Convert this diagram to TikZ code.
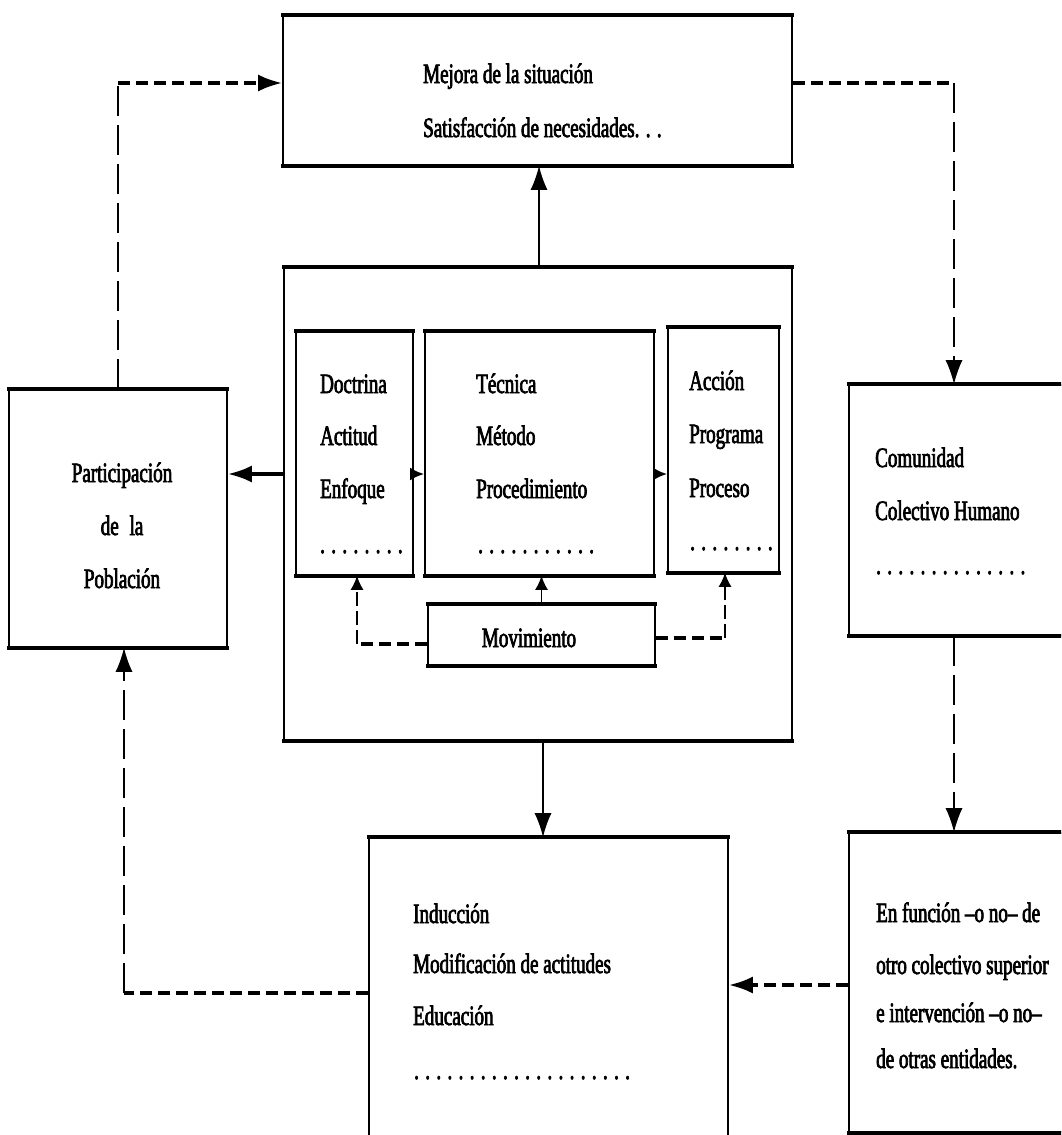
\documentclass[tikz,border=0pt]{standalone}
\usepackage{fontspec}
\setmainfont{Liberation Serif}[FakeStretch=0.68,FakeBold=2.5]
\usetikzlibrary{arrows.meta}
\tikzset{
  bx/.style={draw, line width=1.6pt, rectangle, inner sep=0pt},
  edge/.style={line width=4pt, line cap=butt},
  txt/.style={inner sep=0pt, font=\fontsize{28}{30}\selectfont},
  arr/.style={-{Latex[length=24pt,width=17pt]}},
  sarr/.style={-{Latex[length=14pt,width=13pt]}},
  solidln/.style={line width=1.6pt},
  thickln/.style={line width=3.5pt},
  hdash/.style={line width=3.5pt, dash pattern=on 12pt off 6pt},
  vdash/.style={line width=1.5pt, dash pattern=on 30pt off 9pt},
}
\begin{document}
\begin{tikzpicture}[x=1pt,y=-1pt]
\useasboundingbox (0,0) rectangle (1061,1135);
\clip (0,0) rectangle (1061,1135);
\fill[white] (0,0) rectangle (1061,1135);

% boxes
\node[bx, minimum width=509pt, minimum height=149pt] (top) at (537.5,90.5) {};
\node[bx, minimum width=508pt, minimum height=472pt] (big) at (538,504) {};
\node[bx, minimum width=117pt, minimum height=243pt] (doc) at (354.5,453.5) {};
\node[bx, minimum width=229pt, minimum height=243pt] (tec) at (539.5,453.5) {};
\node[bx, minimum width=111pt, minimum height=244pt] (acc) at (723.5,450) {};
\node[bx, minimum width=227pt, minimum height=60pt] (mov) at (541.5,635) {};
\node[bx, minimum width=218pt, minimum height=257pt] (par) at (118,518.5) {};
\node[bx, minimum width=226pt, minimum height=250pt] (com) at (962,510) {};
\node[bx, minimum width=359pt, minimum height=307pt] (ind) at (548.5,991.5) {};
\node[bx, minimum width=226pt, minimum height=299pt] (enf) at (962,982.5) {};

% thick top and bottom edges
\foreach \b in {top,big,doc,tec,acc,mov,par,com,ind,enf}{
  \draw[edge] ([xshift=-0.8pt]\b.north west) -- ([xshift=0.8pt]\b.north east);
  \draw[edge] ([xshift=-0.8pt]\b.south west) -- ([xshift=0.8pt]\b.south east);
}

% texts
\node[txt, anchor=base west] (t1) at (423,83) {Mejora de la situación};
\node[txt, anchor=base west] (t2) at (423,137) {Satisfacción de necesidades. . .};

\node[txt, anchor=base west] (d1) at (320,393) {Doctrina};
\node[txt, anchor=base west] (d2) at (320,445) {Actitud};
\node[txt, anchor=base west] (d3) at (320,498) {Enfoque};
\node[txt, anchor=base west] (d4) at (320,553) {. . . . . . . .};

\node[txt, anchor=base west] (e1) at (476,393) {Técnica};
\node[txt, anchor=base west] (e2) at (476,445) {Método};
\node[txt, anchor=base west] (e3) at (476,498) {Procedimiento};
\node[txt, anchor=base west] (e4) at (478,553) {. . . . . . . . . . .};

\node[txt, anchor=base west] (a1) at (689,390) {Acción};
\node[txt, anchor=base west] (a2) at (689,443) {Programa};
\node[txt, anchor=base west] (a3) at (689,497) {Proceso};
\node[txt, anchor=base west] (a4) at (690,550) {. . . . . . . .};

\node[txt, anchor=base] (m1) at (529,647) {Movimiento};

\node[txt, anchor=base] (p1) at (122,482) {Participación};
\node[txt, anchor=base] (p2) at (122,535) {de\hspace{6pt} la};
\node[txt, anchor=base] (p3) at (122,588) {Población};

\node[txt, anchor=base west] (c1) at (875,467) {Comunidad};
\node[txt, anchor=base west] (c2) at (875,520) {Colectivo Humano};
\node[txt, anchor=base west] (c3) at (876,574) {. . . . . . . . . . . . . .};

\node[txt, anchor=base west] (i1) at (413,923) {Inducción};
\node[txt, anchor=base west] (i2) at (413,973) {Modificación de actitudes};
\node[txt, anchor=base west] (i3) at (413,1025) {Educación};
\node[txt, anchor=base west] (i4) at (414,1079) {. . . . . . . . . . . . . . . . . . . .};

\node[txt, anchor=base west] (f1) at (876,922) {En función --o no-- de};
\node[txt, anchor=base west] (f2) at (876,974) {otro colectivo superior};
\node[txt, anchor=base west] (f3) at (876,1022) {e intervención --o no--};
\node[txt, anchor=base west] (f4) at (876,1068) {de otras entidades.};

% helper coordinates
\coordinate (rowA) at (0,474);
\coordinate (lA) at (118,83);
\coordinate (rA) at (954,83);
\coordinate (mvL) at (357,644);
\coordinate (mvR) at (725,638);
\coordinate (rowE) at (0,985);
\coordinate (lB) at (124,993);
\coordinate (cx) at (539,0);
\coordinate (bx2) at (543,0);

% solid connectors
\draw[solidln, arr] (big.north -| cx) -- (top.south -| cx);
\draw[thickln, arr] (big.west |- rowA) -- (par.east |- rowA);
\draw[thickln, sarr] (doc.east |- rowA) -- (tec.west |- rowA);
\draw[thickln, sarr] (tec.east |- rowA) -- (acc.west |- rowA);
\draw[solidln, sarr] (mov.north) -- (mov.north |- tec.south);
\draw[solidln, arr] (big.south -| bx2) -- (ind.north -| bx2);

% dashed connectors
\draw[hdash] (mov.west |- mvL) -- (mvL);
\draw[vdash, dash pattern=on 14pt off 5pt, sarr] (mvL) -- (mvL |- doc.south);
\draw[hdash] (mov.east |- mvR) -- (mvR);
\draw[vdash, dash pattern=on 14pt off 5pt, sarr] (mvR) -- (mvR |- acc.south);

\draw[vdash] (par.north -| lA) -- (lA);
\draw[hdash, arr] (lA) -- (top.west |- lA);
\draw[hdash] (top.east |- rA) -- (rA);
\draw[vdash, arr] (rA) -- (rA |- com.north);
\draw[vdash, arr] (rA |- com.south) -- (rA |- enf.north);
\draw[hdash, arr] (enf.west |- rowE) -- (ind.east |- rowE);
\draw[hdash] (ind.west |- lB) -- (lB);
\draw[vdash, arr] (lB) -- (lB |- par.south);
\end{tikzpicture}
\end{document}
